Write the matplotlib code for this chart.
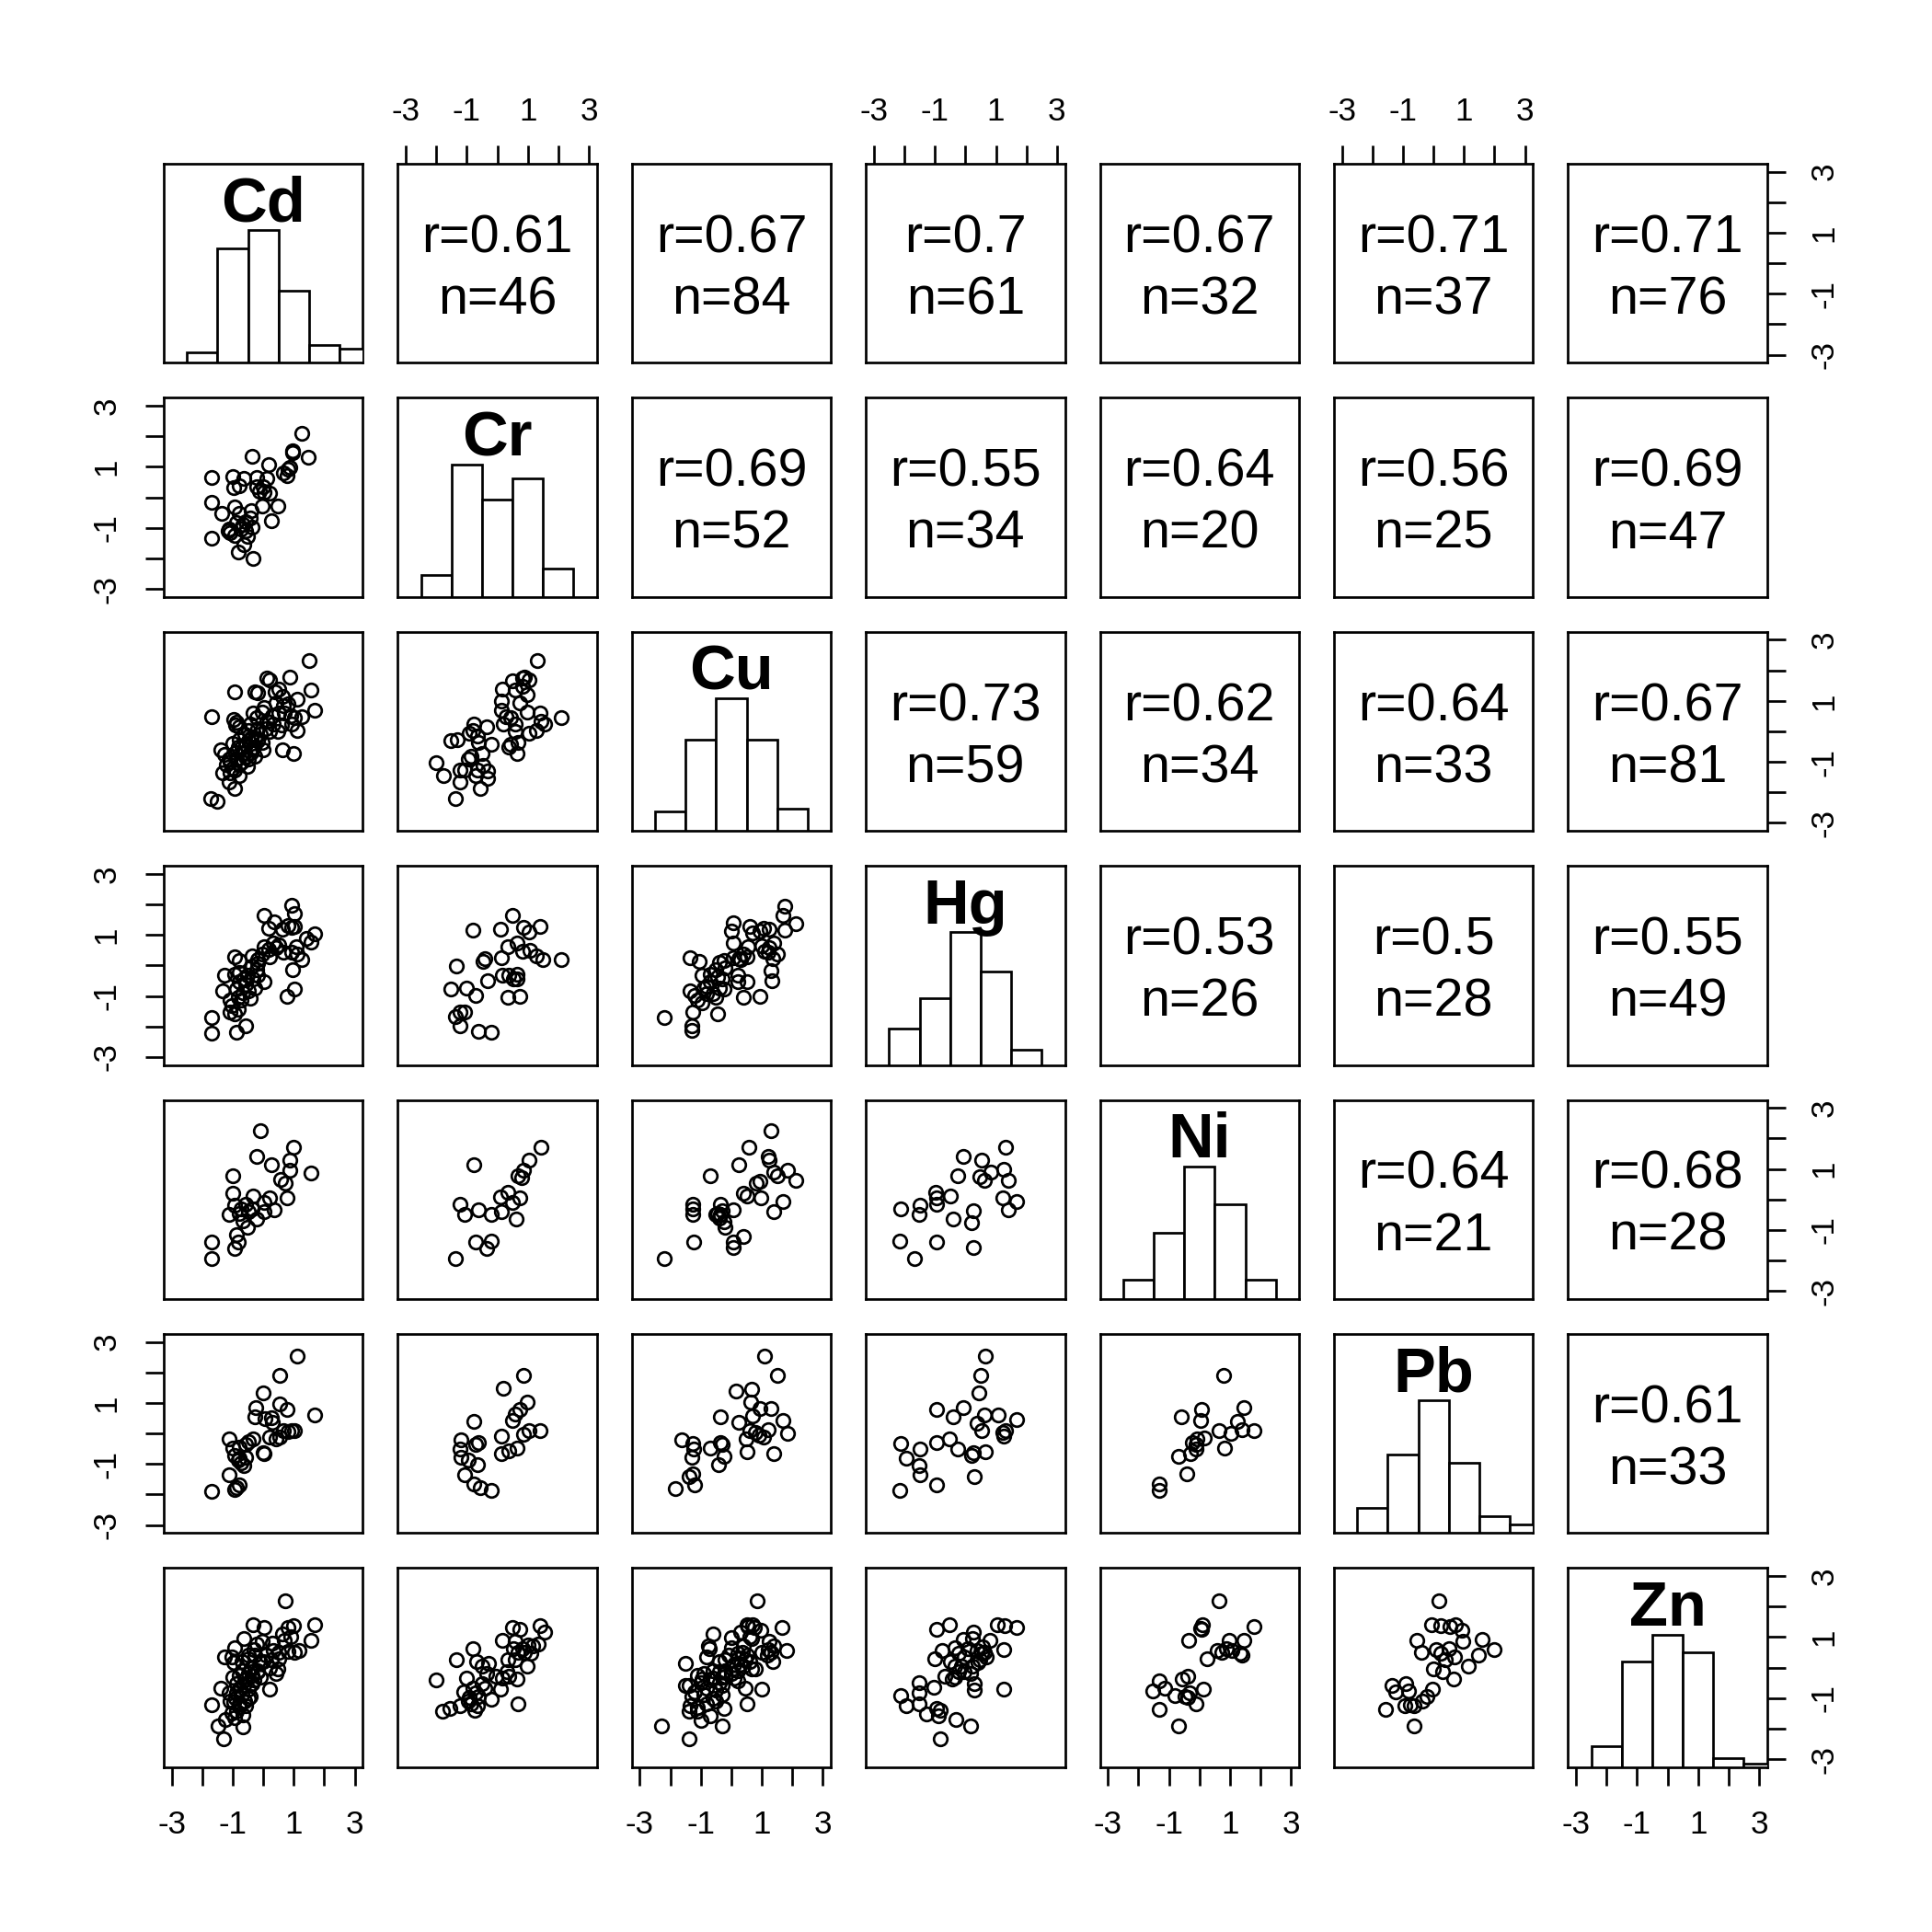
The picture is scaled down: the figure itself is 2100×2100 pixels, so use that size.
import numpy as np
import matplotlib
matplotlib.use('Agg')
import matplotlib.pyplot as plt

plt.rcParams['font.family'] = ['Liberation Sans', 'DejaVu Sans']

names = ['Cd', 'Cr', 'Cu', 'Hg', 'Ni', 'Pb', 'Zn']

# histogram counts, bins of width 1 starting at -2.5
cd_counts = [3, 32, 37, 20, 5, 4]
cr_counts = [6, 37, 27, 33, 8]
cu_counts = [6, 29, 42, 29, 7]
hg_counts = [12, 22, 44, 31, 5]
ni_counts = [2, 7, 14, 10, 2]
pb_counts = [6, 19, 32, 17, 4, 2]
zn_counts = [7, 35, 44, 38, 3, 1]

# upper panels: correlation and pair count, row by row
upper_r = [['0.61', '0.67', '0.7', '0.67', '0.71', '0.71'],
           ['0.69', '0.55', '0.64', '0.56', '0.69'],
           ['0.73', '0.62', '0.64', '0.67'],
           ['0.53', '0.5', '0.55'],
           ['0.64', '0.68'],
           ['0.61']]
upper_n = [[46, 84, 61, 32, 37, 76],
           [52, 34, 20, 25, 47],
           [59, 34, 33, 81],
           [26, 28, 49],
           [21, 28],
           [33]]

# lower panels, (x, y) pairs; name = yvar_xvar
cr_cd = [(1.27, 2.11), (0.97, 1.51), (1.47, 1.31), (-0.38, 1.33), (0.19, 1.06), (0.87, 0.99), (0.67, 0.81),
         (0.77, 0.71), (-1.68, 0.66), (-1.00, 0.69), (-0.63, 0.63), (-0.23, 0.64), (0.12, 0.61), (-0.98, 0.33),
         (-0.80, 0.39), (0.00, 0.36), (-0.13, 0.21), (0.02, 0.16), (0.22, 0.13), (-1.70, -0.17), (-0.03, -0.29),
         (0.47, -0.29), (-0.93, -0.32), (-0.40, -0.44), (-1.35, -0.52), (-0.78, -0.54), (-0.43, -0.69),
         (-0.58, -0.79), (0.27, -0.76), (-0.88, -0.84), (-0.68, -0.89), (-0.38, -0.97), (-1.13, -1.04),
         (-1.08, -1.17), (-0.93, -1.24), (-0.53, -1.29), (-0.63, -1.54), (-0.83, -1.79), (-0.33, -2.01),
         (-1.70, -1.34), (-1.16, -1.09), (-0.58, -1.09), (-0.23, 0.36), (0.82, 0.91), (0.97, 1.46), (-0.73, -1.04)]

cu_cd = [(1.50, 2.31), (0.87, 1.79), (0.12, 1.74), (0.22, 1.69), (1.57, 1.34), (-0.93, 1.29), (-0.18, 1.27),
         (-0.28, 1.29), (0.52, 1.39), (0.62, 1.14), (1.12, 1.04), (-1.68, 0.49), (1.67, 0.69), (-0.98, 0.39),
         (-0.88, 0.29), (-0.33, 0.59), (-0.03, 0.64), (1.02, 0.44), (1.27, 0.49), (0.92, 0.24), (1.12, 0.04),
         (0.47, -0.01), (0.32, 0.24), (0.12, 0.34), (-0.78, 0.14), (-0.48, 0.04), (-0.28, -0.21), (-0.03, -0.36),
         (0.62, -0.61), (1.00, -0.71), (-0.78, -0.26), (-0.58, -0.41), (-0.83, -0.51), (-0.38, -0.56),
         (-1.38, -0.61), (-1.28, -0.76), (-1.13, -0.91), (-0.88, -0.91), (-0.58, -0.86), (-0.28, -0.81),
         (-1.33, -1.36), (-0.93, -1.26), (-0.78, -1.46), (-0.53, -1.16), (-1.13, -1.66), (-0.93, -1.86),
         (-1.73, -2.21), (-1.50, -2.28), (-1.08, -1.36), (-0.68, -0.71), (-0.43, 0.24), (-0.23, 0.44),
         (0.67, 0.84), (0.42, 0.94), (0.02, 0.79), (-0.6, -0.1), (-0.5, -0.3), (-0.4, -0.2), (-0.7, -0.5),
         (-0.9, -0.7), (-1.0, -0.4), (-0.6, -0.7), (-0.3, -0.5), (-0.1, -0.1), (0.1, 0.1), (-0.2, 0.1),
         (0.3, 0.5), (0.5, 0.6), (0.7, 0.6), (0.8, 0.9), (0.4, 1.3), (-0.9, 0.2), (-1.1, -1.0), (-1.0, -1.2),
         (-0.7, -1.0), (-0.5, -0.9), (-0.8, -1.1), (-1.2, -1.1), (-0.4, -0.7), (-0.2, -0.3), (0.0, -0.6),
         (0.2, 0.0), (0.6, 0.2), (0.9, 0.5)]

cu_cr = [(1.31, 2.31), (0.89, 1.79), (1.04, 1.69), (0.49, 1.66), (0.17, 1.39), (0.59, 1.34), (0.84, 1.49),
         (0.99, 1.19), (0.14, 0.99), (0.74, 0.94), (0.14, 0.69), (0.99, 0.64), (1.39, 0.59), (2.09, 0.46),
         (0.29, 0.49), (0.44, 0.44), (0.19, 0.24), (0.59, 0.24), (1.44, 0.34), (1.54, 0.24), (1.29, 0.04),
         (1.04, -0.06), (0.59, -0.01), (-0.78, 0.24), (-0.36, 0.14), (-0.81, 0.04), (-0.91, -0.06),
         (-1.31, -0.26), (-1.51, -0.31), (-0.66, -0.16), (-0.21, -0.41), (-0.61, -0.36), (0.44, -0.41),
         (0.69, -0.36), (0.39, -0.51), (0.64, -0.71), (-0.51, -0.71), (-0.96, -0.91), (-0.86, -0.81),
         (-2.01, -1.04), (-1.76, -1.44), (-1.21, -1.26), (-1.06, -1.26), (-0.66, -1.26), (-0.46, -1.11),
         (-1.21, -1.66), (-0.31, -1.54), (-0.56, -1.86), (-1.36, -2.21), (-0.71, -1.46), (-0.31, -1.31),
         (0.84, 1.74)]

hg_cd = [(0.92, 1.97), (1.02, 1.69), (0.02, 1.65), (0.37, 1.42), (0.17, 1.22), (0.92, 1.25), (1.02, 1.29),
         (0.62, 1.19), (1.67, 1.05), (1.57, 0.77), (0.02, 0.62), (0.32, 0.72), (0.52, 0.67), (0.17, 0.52),
         (1.07, 0.62), (0.92, 0.42), (-0.38, 0.32), (-0.93, 0.27), (-0.78, 0.15), (-0.18, 0.19), (1.12, 0.37),
         (1.27, 0.19), (-1.28, -0.33), (-0.93, -0.28), (-0.78, -0.23), (-0.38, -0.03), (-0.23, -0.13),
         (-0.53, -0.33), (-0.33, -0.43), (0.02, -0.53), (-0.78, -0.53), (-0.58, -0.63), (-1.33, -0.83),
         (-0.88, -0.78), (-0.68, -0.88), (-0.43, -1.08), (-0.83, -1.03), (-1.08, -1.13), (0.97, -0.13),
         (1.02, -0.78), (0.77, -1.01), (-1.08, -1.53), (-0.93, -1.58), (-0.83, -1.43), (-1.68, -1.70),
         (-1.68, -2.21), (-0.88, -2.18), (-0.58, -1.98), (-0.18, 0.07), (-0.03, 0.37), (0.42, 0.57),
         (-0.48, -0.83), (-0.28, -0.73), (-0.73, -1.13), (-1.03, -1.33), (-0.63, -0.43), (-0.18, -0.33),
         (0.22, 0.27), (0.67, 0.42), (1.42, 0.87), (0.82, 1.32)]

hg_cr = [(0.49, 1.65), (-0.81, 1.15), (0.11, 1.19), (0.87, 1.25), (1.04, 1.09), (1.39, 1.27), (0.34, 0.62),
         (0.64, 0.72), (0.84, 0.47), (1.07, 0.49), (1.29, 0.32), (1.49, 0.19), (2.09, 0.19), (-0.41, 0.22),
         (-0.46, 0.12), (0.14, 0.25), (-1.33, -0.03), (-0.31, -0.51), (0.17, -0.33), (0.39, -0.31),
         (0.64, -0.28), (0.64, -0.45), (-1.53, -0.78), (-1.01, -0.73), (-0.71, -0.98), (0.34, -1.05),
         (0.74, -1.01), (-1.21, -1.53), (-1.06, -1.53), (-1.36, -1.68), (-1.21, -1.98), (-0.61, -2.15),
         (-0.19, -2.18), (0.54, -0.43)]

hg_cu = [(1.75, 1.95), (1.68, 1.65), (2.10, 1.37), (1.75, 1.15), (0.05, 1.39), (0.00, 1.12), (0.60, 1.29),
         (0.70, 1.07), (1.05, 1.22), (1.25, 1.19), (0.05, 0.72), (0.55, 0.62), (1.00, 0.65), (1.25, 0.57),
         (1.40, 0.72), (1.50, 0.37), (1.35, 0.22), (1.10, 0.47), (-1.37, 0.25), (-1.05, 0.12), (-0.40, 0.09),
         (-0.25, 0.15), (0.05, 0.25), (0.30, 0.19), (0.50, 0.29), (1.30, -0.18), (1.32, -0.51), (-0.95, -0.33),
         (-0.70, -0.28), (-0.45, -0.38), (-0.30, -0.45), (0.20, -0.33), (0.20, -0.53), (0.52, -0.53),
         (-1.35, -0.83), (-1.20, -0.98), (-0.90, -0.73), (-0.80, -0.93), (-0.60, -0.91), (-0.25, -0.78),
         (-0.50, -1.03), (0.38, -1.03), (0.95, -1.00), (-0.95, -1.23), (-1.25, -1.53), (-0.45, -1.58),
         (-1.30, -1.98), (-1.28, -2.13), (-2.20, -1.71), (-0.70, -0.53), (-0.50, -0.13), (-0.20, -0.08),
         (-0.80, -0.68), (-0.40, -0.73), (-1.10, -1.13), (0.40, 0.37), (0.25, 0.22), (0.95, 1.12), (1.20, 0.42)]

ni_cd = [(-0.10, 2.25), (1.00, 1.72), (-0.23, 1.42), (0.87, 1.30), (0.27, 1.15), (0.87, 0.95), (1.57, 0.88),
         (-1.00, 0.77), (0.57, 0.65), (0.72, 0.55), (-1.00, 0.20), (-0.33, 0.12), (0.22, 0.05), (0.77, 0.05),
         (-0.93, -0.18), (-0.58, -0.15), (0.02, -0.10), (-1.13, -0.48), (-0.78, -0.45), (-0.48, -0.40),
         (-0.23, -0.65), (0.02, -0.40), (0.37, -0.35), (-0.68, -0.70), (-0.53, -0.90), (-0.88, -1.15),
         (-0.83, -1.40), (-0.93, -1.60), (-1.70, -1.38), (-1.70, -1.95), (-0.38, -0.30), (-0.73, -0.30)]

ni_cr = [(1.42, 1.72), (1.04, 1.30), (-0.78, 1.15), (0.87, 0.95), (0.69, 0.78), (0.81, 0.72), (0.09, 0.08),
         (0.34, 0.22), (0.74, 0.05), (0.51, -0.10), (-1.21, -0.15), (-0.61, -0.35), (-1.06, -0.50),
         (-0.21, -0.50), (0.14, -0.40), (0.62, -0.65), (-0.71, -1.40), (-0.19, -1.35), (-0.36, -1.60),
         (-1.36, -1.95)]

ni_cu = [(1.30, 2.25), (0.58, 1.72), (1.20, 1.40), (1.25, 1.30), (0.25, 1.15), (-0.68, 0.78), (1.85, 0.95),
         (1.40, 0.90), (1.50, 0.78), (2.12, 0.62), (0.95, 0.60), (0.82, 0.52), (0.38, 0.20), (0.50, 0.10),
         (0.98, 0.05), (1.68, -0.08), (1.40, -0.40), (-1.25, -0.15), (-1.25, -0.30), (-1.25, -0.48),
         (-0.35, -0.15), (0.05, -0.35), (-0.45, -0.45), (-0.35, -0.50), (-0.40, -0.60), (-0.25, -0.72),
         (-0.20, -0.90), (-0.30, -0.38), (-1.22, -1.40), (0.40, -1.20), (0.05, -1.40), (0.05, -1.58),
         (-2.20, -1.95), (-0.50, -0.50)]

ni_hg = [(1.32, 1.72), (-0.08, 1.42), (0.52, 1.30), (1.27, 0.98), (-0.25, 0.78), (0.82, 0.90), (0.47, 0.75),
         (0.62, 0.62), (1.42, 0.62), (-0.98, 0.22), (-0.95, 0.05), (-0.48, 0.10), (-0.93, -0.15), (1.22, 0.05),
         (1.69, -0.08), (1.42, -0.35), (-2.13, -0.32), (-1.48, -0.18), (-1.51, -0.50), (-0.41, -0.65),
         (0.27, -0.38), (0.19, -0.75), (-2.15, -1.37), (-0.93, -1.40), (0.27, -1.58), (-1.68, -1.95)]

pb_cd = [(1.10, 2.55), (0.54, 1.90), (0.00, 1.33), (-0.26, 0.85), (0.54, 0.98), (0.77, 0.78), (1.67, 0.61),
         (-0.28, 0.55), (0.07, 0.48), (0.27, 0.53), (0.30, 0.38), (0.22, -0.12), (0.54, -0.12), (0.67, 0.08),
         (0.82, 0.05), (0.92, 0.08), (1.02, 0.08), (-1.13, -0.19), (-0.33, -0.17), (-0.48, -0.27),
         (-1.00, -0.47), (-0.78, -0.45), (-0.58, -0.37), (0.00, -0.62), (0.02, -0.67), (-0.93, -0.72),
         (-0.78, -0.82), (-0.58, -0.77), (-0.73, -0.97), (-0.63, -1.05), (-0.83, -0.87), (-1.13, -1.35),
         (-0.93, -1.82), (-0.80, -1.67), (-1.70, -1.89), (-0.88, -1.77), (0.42, -0.17)]

pb_cr = [(0.87, 1.91), (0.19, 1.48), (0.99, 1.03), (0.74, 0.78), (0.59, 0.63), (0.49, 0.43), (-0.78, 0.40),
         (1.41, 0.10), (1.04, 0.11), (0.87, -0.02), (0.14, -0.10), (-1.19, -0.22), (-0.63, -0.29),
         (-0.71, -0.37), (-1.23, -0.52), (0.64, -0.49), (0.37, -0.57), (0.14, -0.65), (-1.19, -0.79),
         (-0.96, -0.87), (-0.66, -1.02), (-1.06, -1.35), (-0.76, -1.65), (-0.56, -1.77), (-0.19, -1.87)]

pb_cu = [(1.08, 2.55), (1.50, 1.90), (0.15, 1.40), (0.65, 1.46), (0.62, 1.03), (0.95, 0.83), (1.30, 0.83),
         (0.70, 0.58), (-0.35, 0.55), (0.25, 0.38), (1.68, 0.43), (1.20, 0.13), (1.85, 0.01), (0.60, 0.08),
         (0.80, 0.03), (0.90, -0.07), (1.05, -0.12), (0.48, -0.17), (-1.62, -0.20), (-1.25, -0.32),
         (-1.22, -0.52), (-1.30, -0.79), (-0.68, -0.49), (-0.35, -0.29), (-0.30, -0.37), (-0.25, -0.75),
         (-0.42, -1.02), (0.52, -0.60), (1.40, -0.65), (-1.25, -1.32), (-1.38, -1.42), (-1.20, -1.67),
         (-1.85, -1.79)]

pb_hg = [(0.65, 2.55), (0.50, 1.90), (0.43, 1.33), (-0.95, 0.80), (-0.08, 0.86), (-0.41, 0.56), (1.07, 0.61),
         (1.69, 0.45), (0.62, 0.61), (0.39, 0.35), (0.52, 0.11), (1.22, 0.03), (1.27, -0.09), (1.32, 0.08),
         (-0.51, -0.17), (-0.95, -0.29), (-0.25, -0.50), (-2.13, -0.32), (-1.50, -0.52), (-1.93, -0.80),
         (-1.51, -1.04), (-1.50, -1.35), (0.19, -0.72), (0.25, -0.62), (0.65, -0.59), (0.29, -1.42),
         (-0.93, -1.67), (-2.15, -1.87)]

pb_ni = [(0.78, 1.90), (1.46, 0.85), (0.08, 0.78), (-0.60, 0.55), (0.03, 0.43), (1.23, 0.41), (1.40, 0.13),
         (1.78, 0.10), (0.63, 0.08), (1.03, 0.01), (0.16, -0.15), (-0.07, -0.19), (-0.22, -0.29),
         (-0.10, -0.37), (-0.12, -0.52), (-0.30, -0.65), (-0.70, -0.75), (0.83, -0.49), (-0.42, -1.33),
         (-1.32, -1.65), (-1.32, -1.87)]

zn_cd = [(0.72, 2.18), (-0.33, 1.41), (0.02, 1.31), (0.80, 1.31), (1.00, 1.36), (1.67, 1.41), (0.62, 1.11),
         (1.57, 0.88), (-0.63, 0.96), (-0.23, 0.78), (-0.03, 0.86), (-0.93, 0.66), (-1.28, 0.36), (-1.03, 0.36),
         (-0.98, 0.16), (-0.48, 0.28), (-0.28, 0.41), (0.32, 0.56), (0.52, 0.51), (0.82, 0.54), (1.02, 0.51),
         (1.17, 0.56), (0.27, 0.26), (-0.08, 0.16), (0.47, -0.04), (0.42, -0.19), (0.22, -0.72), (-0.38, -0.24),
         (-0.18, -0.14), (-0.78, -0.24), (-0.58, -0.39), (-0.88, -0.54), (-0.63, -0.59), (-0.38, -0.54),
         (-1.38, -0.69), (-1.13, -0.84), (-0.88, -0.84), (-0.43, -0.94), (-1.68, -1.22), (-0.98, -1.14),
         (-0.78, -1.29), (-0.58, -1.24), (-0.88, -1.44), (-0.68, -1.54), (-1.23, -1.69), (-1.48, -1.92),
         (-0.68, -1.94), (-1.30, -2.32), (-1.03, -1.49), (-0.93, -1.64), (-0.7, -0.1), (-0.5, -0.2),
         (-0.4, 0.0), (-0.6, -0.4), (-0.8, -0.7), (-0.9, -1.0), (-0.7, -0.9), (-0.5, -0.7), (-0.3, -0.4),
         (-0.2, -0.1), (0.0, 0.2), (0.1, 0.4), (0.2, 0.0), (-0.1, -0.3), (-1.0, -0.3), (-1.1, -1.1),
         (-0.8, -1.2), (-0.6, -1.1), (-0.5, -1.0), (-0.3, 0.6), (-0.5, 0.4), (-0.7, 0.2), (0.5, 0.3),
         (0.7, 0.9), (0.9, 1.0), (0.3, 0.8)]

zn_cr = [(1.41, 1.36), (1.54, 1.16), (0.49, 1.31), (0.74, 1.26), (0.17, 0.88), (0.59, 0.86), (1.01, 0.74),
         (1.34, 0.78), (-0.79, 0.61), (-1.33, 0.26), (-0.69, 0.21), (-0.29, 0.14), (0.54, 0.61), (0.69, 0.51),
         (0.84, 0.61), (1.09, 0.46), (0.34, 0.26), (0.59, 0.26), (0.99, 0.06), (-0.36, -0.19), (-1.01, -0.34),
         (-2.01, -0.42), (0.17, -0.34), (0.39, -0.29), (0.64, -0.39), (-0.51, -0.54), (0.11, -0.72),
         (-1.11, -0.79), (-0.71, -0.84), (-0.91, -0.99), (-0.61, -0.94), (-0.21, -1.04), (-1.21, -1.24),
         (-1.56, -1.34), (-1.79, -1.44), (-0.86, -1.19), (-0.73, -1.39), (0.67, -1.19), (-0.41, -0.69),
         (-0.81, -0.69), (-0.06, -0.29), (0.89, 0.51), (1.17, 0.71), (0.31, -0.14), (-0.66, -1.24),
         (-0.96, -1.09), (-0.51, 0.06)]

zn_cu = [(0.85, 2.18), (1.65, 1.31), (0.52, 1.41), (0.70, 1.41), (0.98, 1.21), (-0.60, 1.11), (0.65, 0.96),
         (0.00, 0.98), (0.30, 1.16), (1.25, 0.86), (1.40, 0.71), (1.82, 0.56), (1.00, 0.51), (1.35, 0.21),
         (1.18, 0.41), (-0.75, 0.71), (-0.80, 0.36), (-0.72, 0.61), (-1.52, 0.14), (-0.20, 0.26), (0.00, 0.66),
         (0.20, 0.46), (0.45, 0.26), (0.65, -0.04), (0.80, -0.04), (0.40, 0.06), (-1.10, -0.24), (-0.95, -0.39),
         (-1.40, -0.59), (-0.60, -0.34), (-0.40, -0.14), (-0.20, -0.29), (0.10, -0.34), (0.20, -0.44),
         (0.45, -0.69), (1.00, -0.72), (-0.80, -0.69), (-0.50, -0.74), (-0.30, -0.89), (-1.30, -0.94),
         (-1.35, -1.24), (-1.40, -1.44), (-0.98, -1.72), (-0.70, -1.59), (-0.25, -1.34), (0.52, -1.19),
         (-2.28, -1.92), (-1.38, -2.32), (-0.30, -1.92), (-1.10, -1.44), (-1.50, -0.59), (-0.9, -0.2),
         (-0.7, -0.4), (-0.6, -0.1), (-0.4, -0.5), (-0.3, -0.6), (-0.2, -0.1), (0.0, -0.2), (0.1, 0.1),
         (0.2, 0.3), (0.3, 0.1), (0.35, 0.5), (0.5, 0.4), (0.6, 0.2), (-0.1, 0.4), (-0.4, 0.2), (-1.0, -0.5),
         (-1.2, -0.8), (-0.9, -0.9), (-0.6, -1.0), (-0.5, -1.1), (-0.8, -1.2), (-1.1, -1.3), (-0.3, -0.3),
         (0.2, -0.1), (0.4, 0.7), (0.6, 1.0), (0.55, 1.35), (0.75, 1.3), (1.2, 0.6), (1.3, 0.5)]

zn_hg = [(-0.51, 1.41), (-0.95, 1.24), (0.25, 1.16), (1.05, 1.41), (1.29, 1.36), (1.69, 1.31), (-0.08, 0.91),
         (0.22, 0.96), (0.79, 0.88), (1.27, 0.58), (-0.75, 0.56), (-1.01, 0.28), (-0.33, 0.66), (-0.23, 0.46),
         (-0.03, 0.34), (0.37, 0.56), (0.52, 0.46), (0.67, 0.36), (0.47, 0.26), (-0.48, 0.21), (-0.33, 0.06),
         (0.22, 0.06), (-0.68, -0.29), (-0.43, -0.39), (-0.33, -0.32), (0.17, -0.19), (0.29, -0.54),
         (0.29, -0.74), (1.25, -0.72), (-1.53, -0.49), (-1.03, -0.64), (-1.51, -0.84), (-2.13, -0.92),
         (-1.95, -1.26), (-1.51, -1.19), (-1.28, -1.52), (-0.95, -1.34), (-0.83, -1.39), (-0.88, -1.59),
         (-0.31, -1.69), (0.17, -1.92), (-0.81, -2.32), (-0.13, 0.06), (0.07, 0.61), (0.57, 0.68),
         (0.62, 0.51), (-0.03, -0.14), (-0.23, -0.14), (0.42, 0.16)]

zn_ni = [(0.63, 2.18), (1.78, 1.34), (0.10, 1.41), (0.03, 1.28), (0.08, 1.24), (-0.34, 0.88), (0.96, 0.88),
         (1.46, 0.88), (0.58, 0.56), (0.73, 0.51), (0.88, 0.61), (1.06, 0.56), (1.33, 0.46), (1.38, 0.41),
         (0.26, 0.28), (-1.32, -0.44), (-1.54, -0.76), (-1.14, -0.69), (-0.82, -0.92), (-0.57, -0.39),
         (-0.37, -0.29), (-0.47, -0.94), (-0.32, -0.82), (-0.12, -1.19), (0.13, -0.72), (-1.32, -1.36),
         (-0.70, -1.92), (-0.37, -0.99)]

zn_pb = [(0.17, 2.18), (-0.07, 1.41), (0.23, 1.36), (0.55, 1.34), (0.73, 1.41), (0.93, 1.21), (-0.55, 0.88),
         (0.95, 0.86), (1.60, 0.91), (2.00, 0.58), (-0.40, 0.51), (0.10, 0.58), (0.50, 0.61), (0.23, 0.46),
         (0.70, 0.36), (0.40, 0.26), (1.47, 0.41), (1.13, 0.06), (0.00, -0.04), (0.65, -0.39), (-1.35, -0.59),
         (-0.90, -0.52), (-1.25, -0.79), (-0.83, -0.76), (-0.03, -0.72), (-0.23, -0.94), (-0.37, -1.09),
         (-0.95, -1.24), (-0.75, -1.22), (-0.65, -1.24), (-1.57, -1.37), (-0.65, -1.92), (0.30, -0.14)]

hist_counts = [cd_counts, cr_counts, cu_counts, hg_counts, ni_counts, pb_counts, zn_counts]
lower = {(1, 0): cr_cd, (2, 0): cu_cd, (2, 1): cu_cr,
         (3, 0): hg_cd, (3, 1): hg_cr, (3, 2): hg_cu,
         (4, 0): ni_cd, (4, 1): ni_cr, (4, 2): ni_cu, (4, 3): ni_hg,
         (5, 0): pb_cd, (5, 1): pb_cr, (5, 2): pb_cu, (5, 3): pb_hg, (5, 4): pb_ni,
         (6, 0): zn_cd, (6, 1): zn_cr, (6, 2): zn_cu, (6, 3): zn_hg, (6, 4): zn_ni, (6, 5): zn_pb}

ticks = [-3, -2, -1, 0, 1, 2, 3]
tick_labels = ['-3', '', '-1', '', '1', '', '3']
lim = 3.26
lw = 0.65

fig = plt.figure(figsize=(7, 7), dpi=300)
W = 2100.0
step = 254.4
size = 216.3
x0 = 178.0

for i in range(7):
    for j in range(7):
        left = (x0 + step * j) / W
        bottom = (W - (x0 + step * i) - size) / W
        ax = fig.add_axes([left, bottom, size / W, size / W])

        if i == j:
            hx = ax.twinx()
            hx.set_ylim(0, 1.5)
            hx.set_axis_off()
            c = np.array(hist_counts[i], dtype=float)
            edges = -2.5 + np.arange(len(c))
            hx.bar(edges, c / c.max(), width=1.0, align='edge', facecolor='white',
                   edgecolor='black', linewidth=lw)
            hx.text(0.5, 0.71, names[i], transform=ax.transAxes, ha='center', va='baseline',
                    fontsize=16.5, fontweight='bold')
        elif i > j:
            pts = np.array(lower[(i, j)])
            ax.plot(pts[:, 0], pts[:, 1], 'o', mfc='none', mec='black', ms=3.5, mew=0.65)
        else:
            r = upper_r[i][j - i - 1]
            n = upper_n[i][j - i - 1]
            ax.text(0.5, 0.555, 'r=' + r, transform=ax.transAxes, ha='center', va='baseline', fontsize=13.8)
            ax.text(0.5, 0.245, 'n=' + str(n), transform=ax.transAxes, ha='center', va='baseline', fontsize=13.8)

        ax.set_xlim(-lim, lim)
        ax.set_ylim(-lim, lim)
        for s in ax.spines.values():
            s.set_linewidth(lw)

        show_bottom = (i == 6 and j % 2 == 0)
        show_top = (i == 0 and j % 2 == 1)
        show_left = (j == 0 and i % 2 == 1)
        show_right = (j == 6 and i % 2 == 0)

        ax.set_xticks(ticks)
        ax.set_xticklabels(tick_labels)
        ax.set_yticks(ticks)
        ax.set_yticklabels(tick_labels)
        ax.tick_params(axis='both', direction='out', length=4.8, width=lw, labelsize=8.4, pad=6.2)
        ax.tick_params(axis='x', bottom=show_bottom, labelbottom=show_bottom,
                       top=show_top, labeltop=show_top)
        if show_top:
            ax.tick_params(axis='x', pad=4.9)
        ax.tick_params(axis='y', left=show_left, labelleft=show_left,
                       right=show_right, labelright=show_right)
        for lab in ax.get_yticklabels():
            lab.set_rotation(90)
            lab.set_va('center')

fig.savefig('out.png', dpi=300, facecolor='white')
